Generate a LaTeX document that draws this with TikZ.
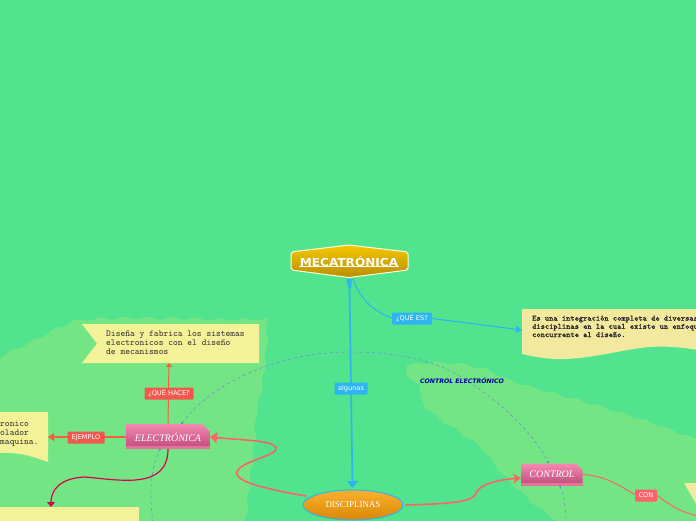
\documentclass[tikz,border=0pt]{standalone}
\usepackage{fontspec}
\setmainfont{Liberation Serif}
\setsansfont{DejaVu Sans}
\newfontfamily\monofat[FakeBold=1.2]{Latin Modern Mono}
\usetikzlibrary{arrows.meta,shapes.geometric,decorations.pathmorphing}
\definecolor{bgg}{HTML}{52E38F}
\definecolor{lgg}{HTML}{74E584}
\definecolor{yel}{HTML}{F4F298}
\definecolor{yel2}{HTML}{F2E89E}
\definecolor{blu}{HTML}{2CB5F0}
\definecolor{redl}{HTML}{FF6268}
\definecolor{redt}{HTML}{F2584C}
\definecolor{crim}{HTML}{D6044E}
\definecolor{dashc}{HTML}{7F86D8}
\definecolor{pinkt}{HTML}{F48AB2}
\definecolor{pinkb}{HTML}{C4507F}
\definecolor{pinks}{HTML}{E8709C}
\definecolor{goldt}{HTML}{F5C800}
\definecolor{goldb}{HTML}{B88E00}
\definecolor{orat}{HTML}{FBB02E}
\definecolor{orab}{HTML}{D98805}
\tikzset{
 x=1pt,y=-1pt,
 lab/.style={rounded corners=1pt,text=white,font=\sffamily\fontsize{6.6}{7}\selectfont,inner sep=0pt,minimum height=12pt,align=center},
 mono/.style={font=\ttfamily\fontsize{9.1}{9.1}\selectfont,text=black!80,align=left,inner sep=0pt,anchor=north west},
 monos/.style={font=\monofat\fontsize{8}{8.2}\selectfont,text=black!85,align=left,inner sep=0pt,anchor=north west},
 pinktxt/.style={font=\itshape\fontsize{10}{12}\selectfont,text=white,inner sep=0pt},
 pinkbox/.style={top color=pinkt,bottom color=pinkb},
 conn/.style={line width=1.6pt,line cap=round},
 dashl/.style={dashc,line width=0.6pt,dash pattern=on 3pt off 3pt},
 region/.style={lgg,decorate,decoration={snake,amplitude=1.2pt,segment length=24pt}},
}
\begin{document}
\begin{tikzpicture}
\useasboundingbox (0,0) rectangle (696,520);
\clip (-2,-2) rectangle (698,522);
\fill[bgg] (-2,-2) rectangle (698,522);
% light regions
\fill[region] (-40,372) .. controls (5,358) and (45,330) .. (75,321)
 .. controls (130,316) and (200,322) .. (260,320)
 .. controls (262,370) and (253,400) .. (249,420)
 .. controls (247,470) and (240,490) .. (237,550) -- (-40,550) -- cycle;
\fill[region] (407,365) .. controls (430,362) and (465,362) .. (490,375)
 .. controls (530,395) and (600,400) .. (725,455)
 -- (725,550) -- (590,550) .. controls (520,510) and (490,480) .. (470,450)
 .. controls (440,425) and (410,415) .. (405,395) -- cycle;
% dashed circle
\draw[dashl] (182,423) .. controls (210,385) and (275,352) .. (350,352)
 .. controls (400,352) and (440,362) .. (462,378)
 .. controls (500,400) and (535,435) .. (548,462);
\draw[dashl] (160,449) .. controls (152,465) and (148,490) .. (153,522);
\draw[dashl] (560,486) .. controls (564,495) and (566,508) .. (566,522);
\fill[dashc!70!violet] (182,423) circle (1pt) (160,449) circle (1pt) (548,462) circle (1pt) (560,486) circle (1pt);
% text boxes
\fill[yel] (82,324) -- (259,324) -- (259,363) -- (82,363) -- (97,343.5) -- cycle;
\fill[yel] (-2,412) -- (48,412) -- (48,462) .. controls (30,455) and (15,452) .. (-2,453) -- cycle;
\fill[yel] (-2,507) rectangle (139,522);
\fill[yel2] (522,309) -- (698,309) -- (698,350) .. controls (680,347) and (665,346) .. (650,347) .. controls (625,349) and (595,358) .. (565,359) .. controls (548,359.5) and (535,357) .. (522,354) -- cycle;
\fill[yel2] (684,483) -- (698,483) -- (698,507) -- cycle;
% nodes
\node[mono] (t1) at (106,330.5) {Diseña y fabrica los sistemas\\electronicos con el diseño\\de mecanismos};
\node[mono] (t2) at (0,420.5) {ronico\\olador\\maquina.};
\node[monos] (t4) at (532,315.5) {Es una integración completa de diversas\\disciplinas en la cual existe un enfoque\\concurrente al diseño.};
\coordinate (t1b) at (169,363);
\coordinate (t2r) at (48,437);
\coordinate (t3t) at (51,507);
\coordinate (t4l) at (522,330);
% main node
\path[draw=white!85!yellow,line width=1pt,rounded corners=2pt,top color=goldt,bottom color=goldb]
 (291,252) -- (349,245) -- (408,252) -- (408,270) -- (349,277.5) -- (291,270) -- cycle;
\node[inner sep=0pt,xscale=1.1,font=\sffamily\bfseries\fontsize{11}{12}\selectfont,text=white] (main) at (349,261) {MECATRÓNICA};
\draw[white,line width=0.8pt] (299,266.5) -- (399,266.5);
% ellipse
\node[ellipse,draw=blu,line width=1pt,minimum width=100pt,minimum height=30pt,inner sep=0pt,top color=orat,bottom color=orab,text=white,font=\fontsize{9}{10}\selectfont] (disc) at (353,505) {DISCIPLINAS};
% pink nodes
\path[pinkbox] (126,424) -- (202,424) -- (209.5,431) -- (209.5,446) -- (126,446) -- cycle;
\fill[pinks] (126,446) rectangle (209.5,449);
\node[pinktxt] (el) at (168,437.5) {ELECTRÓNICA};
\path[pinkbox] (521,463.5) -- (576,463.5) -- (582.5,470) -- (582.5,483) -- (521,483) -- cycle;
\fill[pinks] (521,483) rectangle (582.5,485.5);
\node[pinktxt] (co) at (552,474.5) {CONTROL};
% connectors
\draw[blu,line width=1.7pt,-{Triangle[length=7pt,width=11pt]}] (349.5,286) -- (352.5,488);
\fill[blu] (346,279) -- (352,279) -- (351,288) -- (348.5,288) -- cycle;
\node[lab,fill=blu,minimum width=33pt] (al) at (351,388.5) {algunas};
\draw[blu,line width=1pt] (353,279) .. controls (360,300) and (375,312) .. (392,318);
\node[lab,fill=blu,minimum width=40pt] (qe) at (412,318.5) {¿QUÉ ES?};
\draw[blu,line width=1pt,-{Triangle[length=6pt,width=7pt]}] (qe.east) -- (t4l);
\draw[redl,conn,-{Triangle[length=7pt,width=11pt]}] (306,496) .. controls (260,488) and (230,480) .. (238,470)
 .. controls (245,460) and (280,455) .. (276,447) .. controls (270,440) and (240,440) .. (210,437);
\draw[redl,conn,-{Stealth[length=8pt,width=10pt]}] (406,505) .. controls (440,504) and (470,503) .. (475,495)
 .. controls (478,485) and (495,480) .. (521,478);
\draw[redl,line width=1pt] (583,474.5) .. controls (610,476) and (625,490) .. (636,495);
\node[lab,fill=redl,minimum width=22pt] (con) at (646,495.5) {CON};
\draw[redl,line width=1pt] (con.east) .. controls (670,505) and (680,512) .. (698,516);
\draw[redt!80!orange,line width=1pt,-{Triangle[length=4pt,width=6pt]}] (168,424) -- (t1b);
\node[lab,fill=redt,minimum width=49pt] (qh) at (169,393.5) {¿QUÉ HACE?};
\draw[redt!85!orange,line width=1.3pt,-{Triangle[length=6pt,width=8pt]}] (126,437) -- (t2r);
\node[lab,fill=redt,minimum width=37pt] (ej) at (86,437.5) {EJEMPLO};
\draw[crim,line width=1.2pt,-{Triangle[length=5pt,width=8pt]}] (168,449) .. controls (168,490) and (120,480) .. (85,477)
 .. controls (60,478) and (51,490) .. (t3t);
\node[font=\sffamily\bfseries\itshape\fontsize{6.2}{7}\selectfont,text=blue!65!black,inner sep=0pt] (ce) at (462,380.5) {CONTROL ELECTRÓNICO};
\end{tikzpicture}
\end{document}
